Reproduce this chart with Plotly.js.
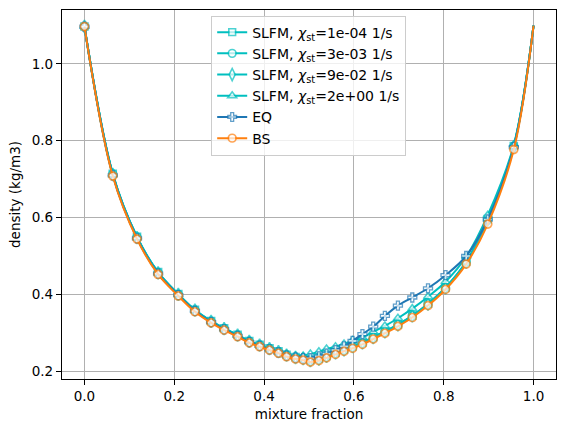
<!DOCTYPE html>
<html>
<head>
<meta charset="utf-8">
<script src="https://cdn.plot.ly/plotly-3.0.1.min.js"></script>
<style>html,body{margin:0;padding:0;background:#fff}#chart{width:567px;height:432px}</style>
</head>
<body>
<div id="chart"></div>
<script>
// mixture fraction grid (marker positions)
const mixtureFraction = [0.0, 0.063, 0.117, 0.164, 0.209, 0.246, 0.282, 0.311, 0.341, 0.367, 0.390, 0.412, 0.432, 0.450, 0.470, 0.487, 0.503, 0.522, 0.539, 0.559, 0.578, 0.597, 0.619, 0.643, 0.669, 0.698, 0.730, 0.765, 0.804, 0.850, 0.898, 0.956, 1.0];

// density (kg/m3)
const slfm1e4 = [1.097, 0.714, 0.550, 0.458, 0.401, 0.360, 0.331, 0.312, 0.295, 0.279, 0.269, 0.260, 0.252, 0.243, 0.237, 0.234, 0.229, 0.233, 0.240, 0.249, 0.257, 0.265, 0.275, 0.289, 0.304, 0.322, 0.345, 0.376, 0.418, 0.485, 0.596, 0.786, 1.0995];
const slfm3e3 = [1.097, 0.713, 0.549, 0.457, 0.400, 0.359, 0.330, 0.311, 0.294, 0.278, 0.268, 0.259, 0.251, 0.242, 0.236, 0.233, 0.228, 0.232, 0.239, 0.248, 0.256, 0.264, 0.274, 0.288, 0.303, 0.321, 0.344, 0.375, 0.417, 0.484, 0.594, 0.785, 1.0995];
const slfm9e2 = [1.097, 0.712, 0.548, 0.456, 0.400, 0.359, 0.330, 0.311, 0.294, 0.278, 0.268, 0.259, 0.251, 0.242, 0.236, 0.233, 0.228, 0.232, 0.239, 0.248, 0.256, 0.264, 0.274, 0.288, 0.303, 0.321, 0.344, 0.375, 0.417, 0.484, 0.593, 0.784, 1.0995];
const slfm2e0 = [1.097, 0.713, 0.549, 0.457, 0.400, 0.359, 0.330, 0.311, 0.294, 0.278, 0.268, 0.259, 0.251, 0.244, 0.240, 0.240, 0.245, 0.251, 0.258, 0.264, 0.271, 0.280, 0.288, 0.303, 0.318, 0.338, 0.363, 0.394, 0.433, 0.498, 0.606, 0.789, 1.0995];
const eq      = [1.097, 0.710, 0.546, 0.454, 0.398, 0.357, 0.328, 0.309, 0.292, 0.276, 0.266, 0.257, 0.249, 0.241, 0.236, 0.234, 0.234, 0.239, 0.246, 0.255, 0.265, 0.279, 0.297, 0.316, 0.344, 0.371, 0.392, 0.416, 0.450, 0.500, 0.595, 0.783, 1.0995];
const bs      = [1.097, 0.708, 0.544, 0.452, 0.396, 0.355, 0.326, 0.307, 0.290, 0.274, 0.264, 0.255, 0.247, 0.238, 0.232, 0.229, 0.224, 0.228, 0.235, 0.244, 0.252, 0.260, 0.270, 0.284, 0.299, 0.317, 0.340, 0.371, 0.413, 0.479, 0.583, 0.777, 1.0995];

const seriesNames = [
  'SLFM, <i>χ</i><sub>st</sub>=1e-04 1/s',
  'SLFM, <i>χ</i><sub>st</sub>=3e-03 1/s',
  'SLFM, <i>χ</i><sub>st</sub>=9e-02 1/s',
  'SLFM, <i>χ</i><sub>st</sub>=2e+00 1/s',
  'EQ',
  'BS'
];
const seriesValues = [slfm1e4, slfm3e3, slfm9e2, slfm2e0, eq, bs];
const seriesColors = ['#00bfbf', '#00bfbf', '#00bfbf', '#00bfbf', '#1f77b4', '#ff7f0e'];
const seriesSymbols = ['square', 'circle', 'diamond-tall', 'triangle-up', 'cross', 'circle'];
const seriesSizes = [7, 8, 9, 8, 7.5, 8];
const seriesEdge = [1.6, 1.6, 1.6, 1.6, 1.3, 1.7];

const n = mixtureFraction.length;
const traces = seriesValues.map((vals, k) => ({
  x: mixtureFraction,
  y: vals,
  name: seriesNames[k],
  type: 'scatter',
  mode: 'lines+markers',
  line: {color: seriesColors[k], width: 2, shape: 'spline', smoothing: 1},
  marker: {
    symbol: seriesSymbols[k],
    color: '#ffffff',
    size: mixtureFraction.map((z, i) => i === n - 1 ? 0 : seriesSizes[k]),
    line: {color: seriesColors[k], width: seriesEdge[k]}
  }
}));

const font = {family: 'DejaVu Sans, sans-serif', size: 13.5, color: '#000'};
const layout = {
  width: 567, height: 432,
  paper_bgcolor: '#fff', plot_bgcolor: '#fff',
  font: font,
  margin: {l: 61.5, r: 11, t: 9.5, b: 53, pad: 0},
  showlegend: true,
  legend: {
    x: 0.302, y: 0.985, xanchor: 'left', yanchor: 'top',
    bgcolor: 'rgba(255,255,255,0.8)', bordercolor: '#cccccc', borderwidth: 1,
    font: {family: 'DejaVu Sans, sans-serif', size: 14, color: '#000'},
    tracegroupgap: 0
  },
  xaxis: {
    range: [-0.05, 1.05],
    tickvals: [0, 0.2, 0.4, 0.6, 0.8, 1.0],
    ticktext: ['0.0', '0.2', '0.4', '0.6', '0.8', '1.0'],
    showgrid: true, gridcolor: '#b0b0b0', gridwidth: 1.1,
    zeroline: false, showline: true, mirror: true, linecolor: '#000', linewidth: 1.1,
    ticks: 'outside', ticklen: 5, tickwidth: 1.1, tickcolor: '#000',
    title: {text: 'mixture fraction', font: font, standoff: 6},
    automargin: false
  },
  yaxis: {
    range: [0.180, 1.140],
    tickvals: [0.2, 0.4, 0.6, 0.8, 1.0],
    ticktext: ['0.2', '0.4', '0.6', '0.8', '1.0'],
    showgrid: true, gridcolor: '#b0b0b0', gridwidth: 1.1,
    zeroline: false, showline: true, mirror: true, linecolor: '#000', linewidth: 1.1,
    ticks: 'outside', ticklen: 5, tickwidth: 1.1, tickcolor: '#000',
    title: {text: 'density (kg/m3)', font: font, standoff: 8},
    automargin: false
  }
};

Plotly.newPlot('chart', traces, layout, {displayModeBar: false, staticPlot: true});
</script>
</body>
</html>
